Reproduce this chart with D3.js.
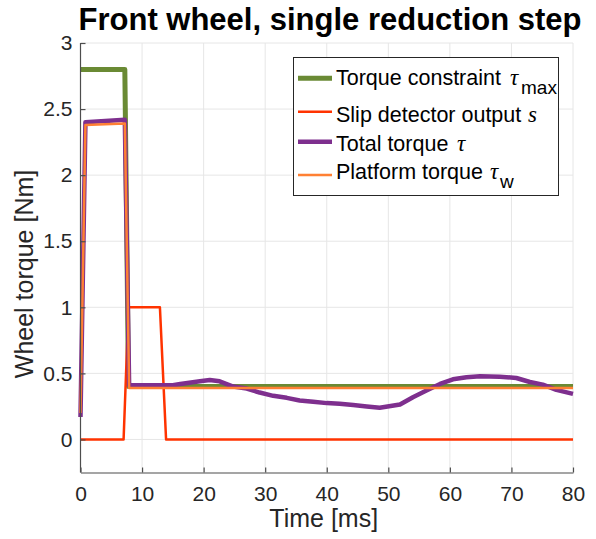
<!DOCTYPE html>
<html>
<head>
<meta charset="utf-8">
<script src="https://cdn.jsdelivr.net/npm/d3@7"></script>
<style>
  html, body { margin: 0; padding: 0; background: #fff; }
  svg { display: block; }
</style>
</head>
<body>
<svg id="chart" width="596" height="539"></svg>
<script>
// Time axis (ms) and the four recorded signals
const constraintTime = [0, 7.2, 7.8, 80];
const constraintVals = [2.8, 2.8, 0.40, 0.40];

const slipTime = [0, 7.0, 7.8, 12.9, 13.9, 80];
const slipVals = [0, 0, 1, 1, 0, 0];

const totalTime = [0, 0.8, 7.2, 7.9, 15, 16.2, 19.4, 21, 22.6, 24.8, 27, 29.1, 31.3, 33.5, 35.6,
  37.8, 40, 42.1, 44.3, 46.5, 48.6, 51.9, 54, 56.2, 58.4, 60.5, 62.7, 64.9, 68.1, 70.8, 73, 75.1, 77.3, 80];
const totalVals = [0.17, 2.40, 2.42, 0.41, 0.41, 0.42, 0.44, 0.45, 0.44, 0.40, 0.385, 0.355, 0.33, 0.315, 0.295,
  0.285, 0.275, 0.27, 0.26, 0.25, 0.24, 0.265, 0.32, 0.37, 0.42, 0.455, 0.47, 0.478, 0.475, 0.465, 0.435, 0.415, 0.375, 0.345];

const platformTime = [0, 0.8, 7.2, 7.9, 80];
const platformVals = [0.20, 2.38, 2.39, 0.39, 0.39];

const xTicks = [0, 10, 20, 30, 40, 50, 60, 70, 80];
const yTicks = [0, 0.5, 1, 1.5, 2, 2.5, 3];
const yTickLabels = ["0", "0.5", "1", "1.5", "2", "2.5", "3"];

const series = [
  { name: "Torque constraint", sym: "\u03C4", sub: "max", t: constraintTime, v: constraintVals, color: "#6a8a34", width: 5 },
  { name: "Slip detector output", sym: "s", sub: "", t: slipTime, v: slipVals, color: "#ff3300", width: 2.5 },
  { name: "Total torque", sym: "\u03C4", sub: "", t: totalTime, v: totalVals, color: "#7e2f8e", width: 4.5 },
  { name: "Platform torque", sym: "\u03C4", sub: "w", t: platformTime, v: platformVals, color: "#ff8033", width: 2.5 }
];

const svg = d3.select("#chart");
const plotLeft = 80.5, plotRight = 573, plotTop = 43, plotBottom = 472.5;

const x = d3.scaleLinear().domain([0, 80]).range([plotLeft, plotRight]);
const y = d3.scaleLinear().domain([-0.25, 3]).range([plotBottom, plotTop]);

const font = "'Liberation Sans', Arial, Helvetica, sans-serif";
const serif = "'Liberation Serif', 'Times New Roman', serif";
const ink = "#262626";

// grid
const grid = svg.append("g");
grid.selectAll("line.gx").data(xTicks).enter().append("line")
  .attr("x1", d => x(d)).attr("x2", d => x(d))
  .attr("y1", plotTop).attr("y2", plotBottom)
  .attr("stroke", "#e6e6e6").attr("stroke-width", 1);
grid.selectAll("line.gy").data(yTicks).enter().append("line")
  .attr("x1", plotLeft).attr("x2", plotRight)
  .attr("y1", d => y(d)).attr("y2", d => y(d))
  .attr("stroke", "#e6e6e6").attr("stroke-width", 1);

// signals
const line = d3.line().x(d => x(d[0])).y(d => y(d[1]));
svg.append("g").selectAll("path").data(series).enter().append("path")
  .attr("d", s => line(s.t.map((t, i) => [t, s.v[i]])))
  .attr("fill", "none")
  .attr("stroke", s => s.color)
  .attr("stroke-width", s => s.width)
  .attr("stroke-linejoin", "round");

// axes (left and bottom only, ticks pointing inward)
const xAxis = d3.axisBottom(x).tickValues(xTicks).tickSizeInner(-5).tickSizeOuter(0).tickPadding(14);
const yAxis = d3.axisLeft(y).tickValues(yTicks).tickFormat((d, i) => yTickLabels[i]).tickSizeInner(-5).tickSizeOuter(0).tickPadding(8);

const gx = svg.append("g").attr("transform", `translate(0,${plotBottom})`).call(xAxis);
const gy = svg.append("g").attr("transform", `translate(${plotLeft},0)`).call(yAxis);
[gx, gy].forEach(g => {
  g.select(".domain").attr("stroke", "#4d4d4d").attr("stroke-width", 1.2);
  g.selectAll(".tick line").attr("stroke", "#4d4d4d").attr("stroke-width", 1.2);
  g.selectAll(".tick text").attr("fill", ink).attr("font-family", font).attr("font-size", 21);
});
gy.select(".domain").attr("d", `M0,${plotBottom}V${y(3)}`);

// axis labels
svg.append("text")
  .attr("x", (plotLeft + plotRight) / 2 - 3).attr("y", 527)
  .attr("text-anchor", "middle")
  .attr("font-family", font).attr("font-size", 25).attr("fill", ink)
  .text("Time [ms]");
svg.append("text")
  .attr("transform", `translate(33,274) rotate(-90)`)
  .attr("text-anchor", "middle")
  .attr("font-family", font).attr("font-size", 25).attr("fill", ink)
  .text("Wheel torque [Nm]");

// title
svg.append("text")
  .attr("x", 330).attr("y", 30)
  .attr("text-anchor", "middle")
  .attr("font-family", font).attr("font-size", 31).attr("font-weight", "bold").attr("fill", "#000")
  .text("Front wheel, single reduction step");

// legend
const lg = svg.append("g");
lg.append("rect")
  .attr("x", 293.5).attr("y", 57.5).attr("width", 265).attr("height", 138)
  .attr("fill", "#fff").attr("stroke", ink).attr("stroke-width", 1);
const lineY = [78.3, 111.7, 141.7, 175];
const baseY = [85, 121.7, 151, 179.3];
const symX = [510, 528, 457, 490];
const subX = [521, 0, 0, 500];
series.forEach((s, i) => {
  lg.append("line")
    .attr("x1", 298).attr("x2", 332)
    .attr("y1", lineY[i]).attr("y2", lineY[i])
    .attr("stroke", s.color).attr("stroke-width", s.width);
  lg.append("text")
    .attr("x", 336).attr("y", baseY[i])
    .attr("font-family", font).attr("font-size", 21.5).attr("fill", "#000")
    .text(s.name);
  lg.append("text")
    .attr("x", symX[i]).attr("y", baseY[i])
    .attr("font-family", serif).attr("font-style", "italic").attr("font-size", 23).attr("fill", "#000")
    .text(s.sym);
  if (s.sub) {
    lg.append("text")
      .attr("x", subX[i]).attr("y", baseY[i] + 9)
      .attr("font-family", font).attr("font-size", 19).attr("fill", "#000")
      .text(s.sub);
  }
});
</script>
</body>
</html>
